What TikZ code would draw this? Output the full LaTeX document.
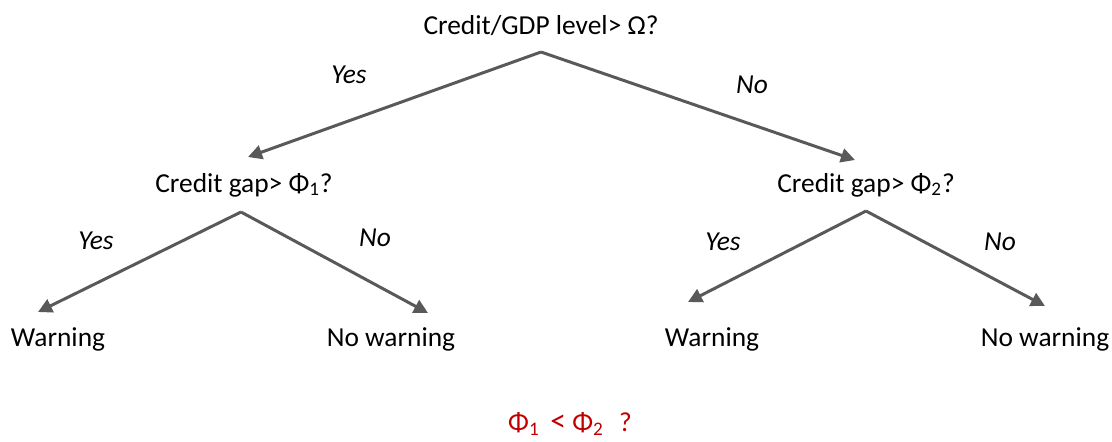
\documentclass[tikz,border=0pt]{standalone}
\usepackage{fontspec}
\setmainfont{Carlito}
\usetikzlibrary{arrows.meta,calc}
\definecolor{linegray}{RGB}{89,89,89}
\definecolor{darkred}{RGB}{192,0,0}
\tikzset{
  txt/.style={font=\fontsize{15.6}{18}\selectfont,inner sep=1pt},
  ans/.style={font=\fontsize{15.6}{18}\selectfont\itshape,inner sep=1pt},
  branch/.style={draw=linegray,line width=1.7pt,-{Triangle[length=8pt,width=8pt]}}
}
\begin{document}
\begin{tikzpicture}[x=0.02cm,y=-0.02cm]
\useasboundingbox(0,0)rectangle(1112,441);
\node[txt](root)at(541,26){Credit/GDP level> Ω?};
\node[txt](q1)at(244,185){Credit gap> Φ\textsubscript{1}?};
\node[txt](q2)at(866,185){Credit gap> Φ\textsubscript{2}?};
\node[txt](w1)at(58,339){Warning};
\node[txt](n1)at(391,339){No warning};
\node[txt](w2)at(712,339){Warning};
\node[txt](n2)at(1045,339){No warning};
\node[txt,text=darkred](cmp)at(570,424){Φ\textsubscript{1}\, {\fontsize{18}{18}\selectfont<} Φ\textsubscript{2}\,\, ?};
% branch points under the questions
\coordinate(r0)at($(root)+(0,26)$);
\coordinate(r1)at($(q1)+(-3,27)$);
\coordinate(r2)at($(q2)+(0,26)$);
\draw[branch](r0)--($(q1)+(4,-28)$);
\draw[branch](r0)--($(q2)+(-11,-25)$);
\draw[branch](r1)--($(w1)+(-20,-27)$);
\draw[branch](r1)--($(n1)+(37,-26)$);
\draw[branch](r2)--($(w2)+(-24,-37)$);
\draw[branch](r2)--($(n2)+(0,-33)$);
% answers
\node[ans](y0)at(349,75){Yes};
\node[ans](o0)at(752,85){No};
\node[ans](y1)at(96,241){Yes};
\node[ans](o1)at(375,238){No};
\node[ans](y2)at(723,242){Yes};
\node[ans](o2)at(1000,242){No};
\end{tikzpicture}
\end{document}
